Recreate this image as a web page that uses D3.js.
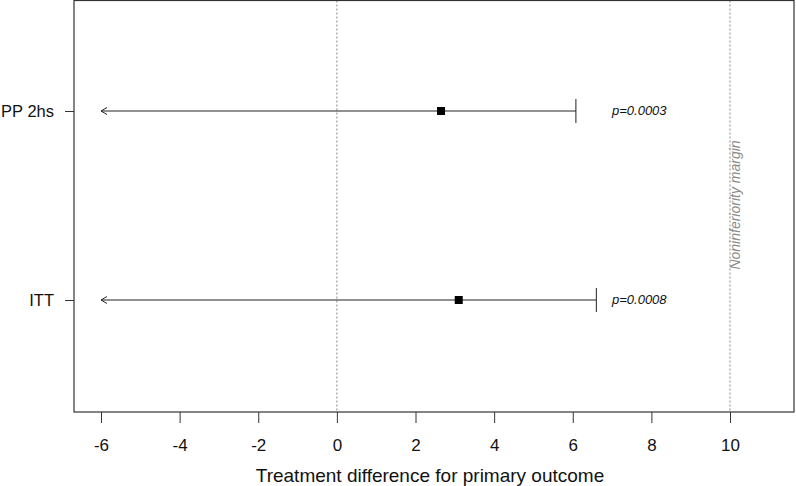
<!DOCTYPE html>
<html>
<head>
<meta charset="utf-8">
<script src="https://cdn.jsdelivr.net/npm/d3@7"></script>
<style>
  body { margin: 0; background: #fff; }
  text { font-family: "Liberation Sans", Arial, sans-serif; }
</style>
</head>
<body>
<div id="chart"></div>
<script>
// data
var groups = ["ITT", "PP 2hs"];
var estimates = [3.1, 2.65];
var upperCI = [6.6, 6.08];
var lowerCI = [-6, -6];
var pValues = ["p=0.0008", "p=0.0003"];
var xTicks = [-6, -4, -2, 0, 2, 4, 6, 8, 10];
var margin = 10;

var W = 796, H = 486;
var svg = d3.select("#chart").append("svg")
    .attr("width", W)
    .attr("height", H);

var x = d3.scaleLinear().domain([-6, 10]).range([101, 730]);
var y = d3.scaleLinear().domain([0, 1]).range([300, 111]);

var box = {left: 74, right: 794, top: 0.5, bottom: 412};

// reference lines
svg.append("line")
    .attr("x1", x(0)).attr("x2", x(0))
    .attr("y1", box.top).attr("y2", box.bottom)
    .attr("stroke", "#888").attr("stroke-width", 1)
    .attr("stroke-dasharray", "2,2");
svg.append("line")
    .attr("x1", x(margin)).attr("x2", x(margin))
    .attr("y1", box.top).attr("y2", box.bottom)
    .attr("stroke", "#888").attr("stroke-width", 1)
    .attr("stroke-dasharray", "2,2");

svg.append("text")
    .attr("transform", "translate(" + (x(margin) + 10) + ",205) rotate(-90)")
    .attr("text-anchor", "middle")
    .attr("font-size", "14px")
    .attr("font-style", "italic")
    .attr("fill", "#8c8c8c")
    .text("Noninferiority margin");

// plot box
svg.append("rect")
    .attr("x", box.left).attr("y", box.top)
    .attr("width", box.right - box.left)
    .attr("height", box.bottom - box.top)
    .attr("fill", "none")
    .attr("stroke", "#333")
    .attr("stroke-width", 1.2);

// x axis
var xAxis = svg.append("g")
    .attr("transform", "translate(0," + box.bottom + ")")
    .call(d3.axisBottom(x).tickValues(xTicks).tickSize(11).tickPadding(16)
        .tickFormat(function(d) { return d; }));
xAxis.select(".domain").remove();
xAxis.selectAll("line").attr("stroke", "#333");
xAxis.selectAll("text")
    .attr("font-size", "17px")
    .attr("fill", "#111");

svg.append("text")
    .attr("x", 430).attr("y", 482)
    .attr("text-anchor", "middle")
    .attr("font-size", "19px")
    .attr("fill", "#111")
    .text("Treatment difference for primary outcome");

// y axis
var yAxis = svg.append("g")
    .attr("transform", "translate(" + box.left + ",0)")
    .call(d3.axisLeft(y).tickValues([0, 1]).tickSize(9).tickPadding(11)
        .tickFormat(function(d) { return groups[d]; }));
yAxis.select(".domain").remove();
yAxis.selectAll("line").attr("stroke", "#333");
yAxis.selectAll("text")
    .attr("font-size", "16.5px")
    .attr("fill", "#111");

// rows
var rows = svg.selectAll("g.row")
    .data(groups)
    .enter()
    .append("g")
    .attr("class", "row");

rows.append("line")
    .attr("x1", function(d, i) { return x(lowerCI[i]); })
    .attr("x2", function(d, i) { return x(upperCI[i]); })
    .attr("y1", function(d, i) { return y(i); })
    .attr("y2", function(d, i) { return y(i); })
    .attr("stroke", "#222").attr("stroke-width", 1);

// open arrow head at lower end
rows.append("path")
    .attr("d", function(d, i) {
        var x0 = x(lowerCI[i]), y0 = y(i);
        return "M" + (x0 + 6) + "," + (y0 - 3.5) + "L" + x0 + "," + y0 + "L" + (x0 + 6) + "," + (y0 + 3.5);
    })
    .attr("fill", "none")
    .attr("stroke", "#222").attr("stroke-width", 1);

// upper cap
rows.append("line")
    .attr("x1", function(d, i) { return x(upperCI[i]); })
    .attr("x2", function(d, i) { return x(upperCI[i]); })
    .attr("y1", function(d, i) { return y(i) - 12; })
    .attr("y2", function(d, i) { return y(i) + 12; })
    .attr("stroke", "#222").attr("stroke-width", 1);

// point
rows.append("rect")
    .attr("x", function(d, i) { return x(estimates[i]) - 4; })
    .attr("y", function(d, i) { return y(i) - 4; })
    .attr("width", 8).attr("height", 8)
    .attr("fill", "#000");

rows.append("text")
    .attr("x", 612)
    .attr("y", function(d, i) { return y(i) + 4; })
    .attr("font-size", "13px")
    .attr("font-style", "italic")
    .attr("fill", "#111")
    .text(function(d, i) { return pValues[i]; });
</script>
</body>
</html>
